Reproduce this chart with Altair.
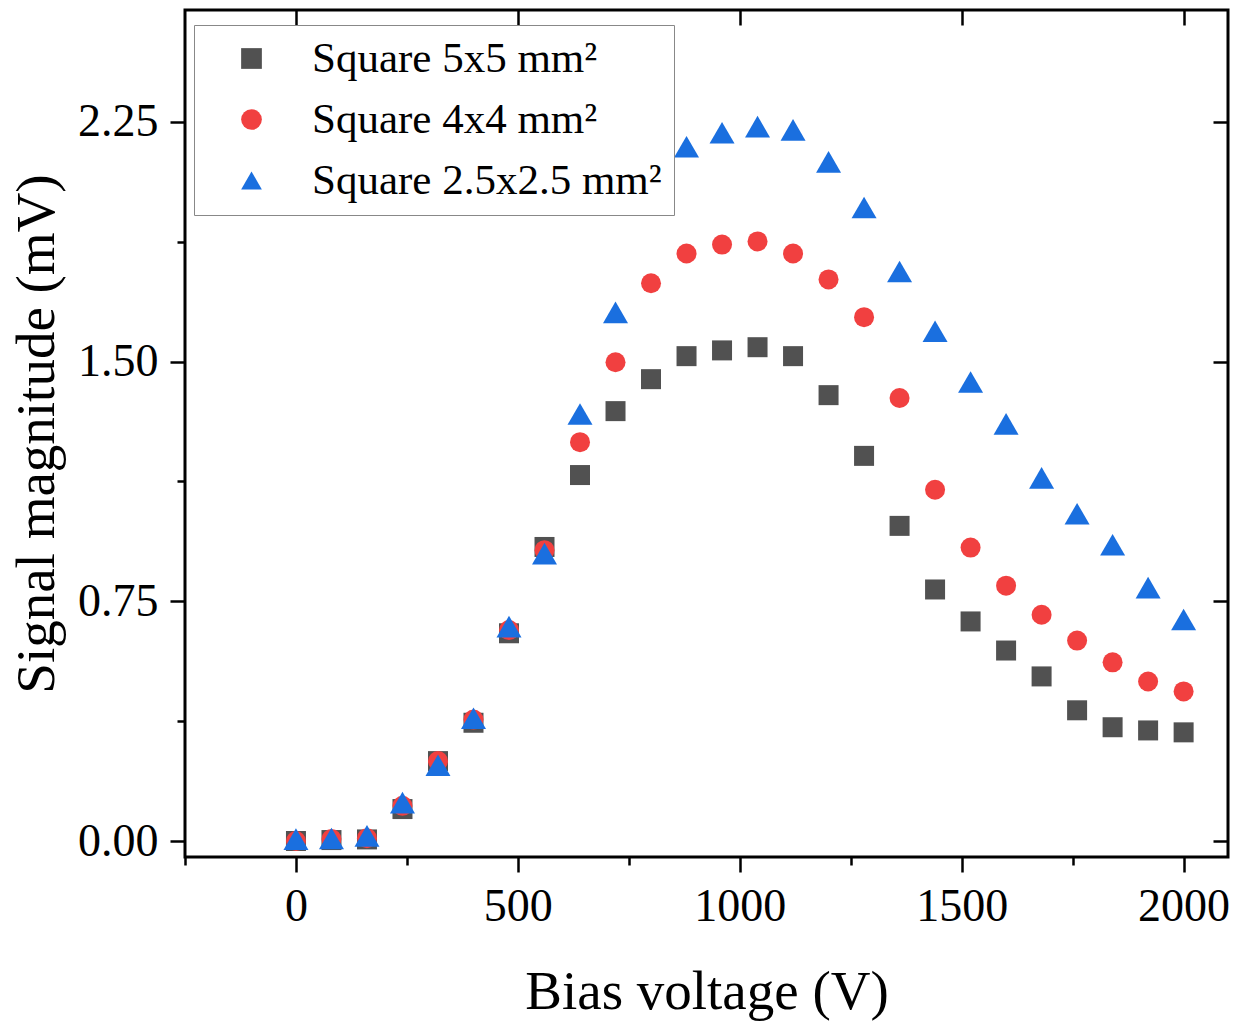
import altair as alt
import pandas as pd

voltage = [0, 80, 160, 240, 320, 400, 480, 560, 640, 720, 800, 880, 960,
           1040, 1120, 1200, 1280, 1360, 1440, 1520, 1600, 1680, 1760, 1840, 1920, 2000]
sq5 = [0.0, 0.003, 0.005, 0.10, 0.25, 0.37, 0.65, 0.92, 1.145, 1.345, 1.445, 1.517, 1.535,
       1.545, 1.517, 1.395, 1.205, 0.986, 0.787, 0.687, 0.596, 0.515, 0.409, 0.356, 0.346, 0.340]
sq4 = [0.0, 0.006, 0.009, 0.11, 0.25, 0.38, 0.66, 0.91, 1.248, 1.498, 1.745, 1.838, 1.866,
       1.876, 1.838, 1.757, 1.639, 1.386, 1.099, 0.918, 0.799, 0.708, 0.627, 0.559, 0.499, 0.468]
sq25 = [0.006, 0.008, 0.016, 0.12, 0.237, 0.384, 0.671, 0.899, 1.336, 1.654, 2.054, 2.172, 2.216,
        2.235, 2.225, 2.125, 1.982, 1.782, 1.595, 1.436, 1.305, 1.136, 1.024, 0.927, 0.793, 0.693]

series_names = ["Square 5x5 mm²", "Square 4x4 mm²", "Square 2.5x2.5 mm²"]
colors = ["#515151", "#F14040", "#1A6FDF"]
shapes = ["square", "circle", "triangle-up"]

x_ticks = [-250, 0, 250, 500, 750, 1000, 1250, 1500, 1750, 2000]
x_major = [0, 500, 1000, 1500, 2000]
y_ticks = [0.0, 0.375, 0.75, 1.125, 1.5, 1.875, 2.25]
y_major = [0.0, 0.75, 1.5, 2.25]

rows = []
for name, vals in zip(series_names, [sq5, sq4, sq25]):
    for v, s in zip(voltage, vals):
        rows.append({"V": v, "S": s, "series": name})
df = pd.DataFrame(rows)

W, H = 1043, 847
FONT = "Liberation Serif"
xscale = alt.Scale(domain=[-250, 2100], nice=False, zero=False)
yscale = alt.Scale(domain=[-0.05, 2.6], nice=False, zero=False)

points = alt.Chart(df).mark_point(filled=True, opacity=1, strokeWidth=0).encode(
    x=alt.X("V:Q", scale=xscale, axis=alt.Axis(
        values=x_ticks,
        labelExpr="datum.value % 500 == 0 ? format(datum.value, 'd') : ''",
        tickSize={"condition": {"test": "datum.value % 500 == 0", "value": 15}, "value": 8},
        tickWidth=2.5, tickColor="black", domain=False, grid=False,
        labelFont=FONT, labelFontSize=46, labelColor="black", labelPadding=12,
        title="Bias voltage (V)", titleFont=FONT, titleFontSize=55,
        titleFontWeight="normal", titleColor="black", titlePadding=36)),
    y=alt.Y("S:Q", scale=yscale, axis=alt.Axis(
        values=y_ticks,
        labelExpr="abs(datum.value / 0.75 - round(datum.value / 0.75)) < 0.001 ? format(datum.value, '.2f') : ''",
        tickSize={"condition": {"test": "abs(datum.value / 0.75 - round(datum.value / 0.75)) < 0.001", "value": 15}, "value": 8},
        tickWidth=2.5, tickColor="black", domain=False, grid=False,
        labelFont=FONT, labelFontSize=46, labelColor="black", labelPadding=12,
        title="Signal magnitude (mV)", titleFont=FONT, titleFontSize=55,
        titleFontWeight="normal", titleColor="black", titlePadding=12)),
    color=alt.Color("series:N", scale=alt.Scale(domain=series_names, range=colors),
                    legend=alt.Legend(
                        title=None, orient="none", legendX=9, legendY=15,
                        labelFont=FONT, labelFontSize=43, labelColor="black",
                        labelLimit=0,
                        symbolSize=430, symbolOffset=24, labelOffset=39,
                        rowPadding=17, padding=12,
                        fillColor="white", strokeColor="#888888")),
    shape=alt.Shape("series:N", scale=alt.Scale(domain=series_names, range=shapes)),
    size=alt.condition("datum.series == 'Square 2.5x2.5 mm²'", alt.value(625), alt.value(400)),
)

frame = alt.Chart(df).mark_point(opacity=0).encode(
    x=alt.X("V:Q", scale=xscale, axis=alt.Axis(
        orient="bottom", offset=-H, values=x_major, labels=False, domain=False,
        grid=False, tickSize=15, tickWidth=2.5, tickColor="black", title=None)),
    y=alt.Y("S:Q", scale=yscale, axis=alt.Axis(
        orient="left", offset=-W, values=y_major, labels=False, domain=False,
        grid=False, tickSize=15, tickWidth=2.5, tickColor="black", title=None)),
)

chart = alt.layer(points, frame).resolve_axis(x="independent", y="independent").properties(
    width=W, height=H,
    padding={"left": 185, "top": 10, "right": 20, "bottom": 167},
    autosize=alt.AutoSizeParams(type="none"),
).configure_view(stroke="black", strokeWidth=3)

chart.save("out.html", embed_options={"renderer": "svg", "actions": False})
